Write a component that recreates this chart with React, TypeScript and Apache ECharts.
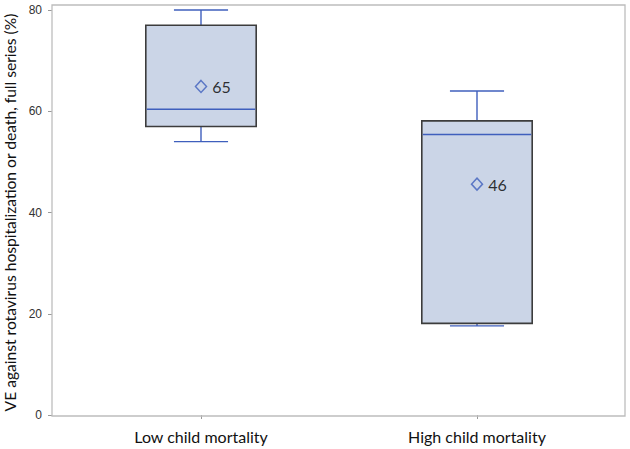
import React, { useEffect, useRef } from "react";
import * as echarts from "echarts";

const categories = ["Low child mortality", "High child mortality"];
const minValues = [54, 17.6];
const q1Values = [57, 18.1];
const medianValues = [60.4, 55.4];
const q3Values = [77, 58.1];
const maxValues = [80, 64];
const meanValues = [64.9, 45.6];
const yTicks = [0, 20, 40, 60, 80];

const BLUE = "#3f5fbd";
const BOX_FILL = "#cbd5e7";
const BOX_EDGE = "#3c3c3c";

export default function App() {
  const ref = useRef<HTMLDivElement>(null);
  useEffect(() => {
    if (!ref.current) return;
    const chart = echarts.init(ref.current, undefined, { renderer: "svg" });
    const boxData = categories.map((_, i) => [
      i,
      minValues[i],
      q1Values[i],
      medianValues[i],
      q3Values[i],
      maxValues[i],
    ]);
    const meanData = categories.map((_, i) => [i, meanValues[i]]);
    chart.setOption({
      animation: false,
      backgroundColor: "#ffffff",
      grid: { left: 63, right: 15, top: 10, bottom: 34, outerBoundsMode: "none" },
      graphic: [
        {
          type: "rect",
          shape: { x: 52, y: 5, width: 573, height: 411 },
          style: { fill: "none", stroke: "#bdbdbd", lineWidth: 1.3 },
          z: 10,
          silent: true,
        },
      ],
      xAxis: {
        type: "category",
        data: categories,
        boundaryGap: true,
        axisLine: { show: false },
        axisTick: {
          show: true,
          alignWithLabel: true,
          length: 4,
          lineStyle: { color: "#9a9a9a" },
        },
        axisLabel: {
          margin: 13,
          fontFamily: "Lato",
          fontSize: 16,
          color: "#111",
        },
        splitLine: { show: false },
      },
      yAxis: {
        type: "value",
        min: 0,
        max: 80,
        interval: 20,
        offset: 11,
        name: "VE against rotavirus hospitalization or death, full series (%)",
        nameLocation: "middle",
        nameGap: 30,
        nameTextStyle: { fontFamily: "Lato", fontSize: 15.6, color: "#111" },
        axisLine: { show: false },
        axisTick: { show: true, length: 4, lineStyle: { color: "#9a9a9a" } },
        axisLabel: {
          margin: 10,
          fontFamily: "Liberation Sans",
          fontSize: 12,
          color: "#333",
          customValues: yTicks,
        },
        splitLine: { show: false },
      },
      series: [
        {
          type: "custom",
          data: boxData,
          encode: { x: 0, y: [1, 2, 3, 4, 5] },
          renderItem: (params: any, api: any) => {
            const x = api.value(0);
            const pMin = api.coord([x, api.value(1)]);
            const pQ1 = api.coord([x, api.value(2)]);
            const pMed = api.coord([x, api.value(3)]);
            const pQ3 = api.coord([x, api.value(4)]);
            const pMax = api.coord([x, api.value(5)]);
            const band = api.size([1, 0])[0];
            const half = band * 0.2;
            const capHalf = band * 0.098;
            const cx = pMed[0];
            const lineStyle = { stroke: BLUE, lineWidth: 1.4 };
            return {
              type: "group",
              children: [
                {
                  type: "line",
                  shape: { x1: cx, y1: pMax[1], x2: cx, y2: pQ3[1] },
                  style: lineStyle,
                },
                {
                  type: "line",
                  shape: { x1: cx, y1: pMin[1], x2: cx, y2: pQ1[1] },
                  style: lineStyle,
                },
                {
                  type: "line",
                  shape: { x1: cx - capHalf, y1: pMax[1], x2: cx + capHalf, y2: pMax[1] },
                  style: lineStyle,
                },
                {
                  type: "line",
                  shape: { x1: cx - capHalf, y1: pMin[1], x2: cx + capHalf, y2: pMin[1] },
                  style: lineStyle,
                },
                {
                  type: "rect",
                  shape: {
                    x: cx - half,
                    y: pQ3[1],
                    width: half * 2,
                    height: pQ1[1] - pQ3[1],
                  },
                  style: { fill: BOX_FILL, stroke: BOX_EDGE, lineWidth: 1.6 },
                },
                {
                  type: "line",
                  shape: { x1: cx - half + 1, y1: pMed[1], x2: cx + half - 1, y2: pMed[1] },
                  style: lineStyle,
                },
              ],
            };
          },
          z: 2,
        },
        {
          type: "scatter",
          data: meanData,
          symbol: "diamond",
          symbolSize: [11, 12],
          itemStyle: { color: BOX_FILL, borderColor: BLUE, borderWidth: 1.5 },
          label: {
            show: true,
            position: "right",
            distance: 5,
            formatter: (p: any) => String(Math.round(p.value[1])),
            fontFamily: "Lato",
            fontSize: 16,
            color: "#000",
          },
          z: 5,
        },
      ],
    });
    return () => chart.dispose();
  }, []);
  return (
    <div
      ref={ref}
      style={{ position: "fixed", left: 0, top: 0, width: 630, height: 449 }}
    />
  );
}
